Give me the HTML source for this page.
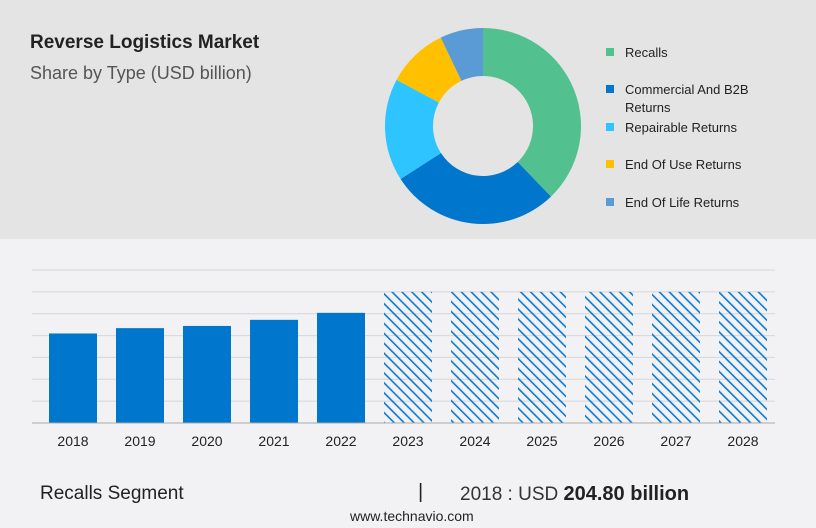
<!DOCTYPE html>
<html><head><meta charset="utf-8"><style>
body{margin:0;width:816px;height:528px;overflow:hidden;background:#f2f2f4;font-family:"Liberation Sans",sans-serif;position:relative}
#top{position:absolute;left:0;top:0;width:816px;height:239px;background:#e4e4e4}
.t{position:absolute;white-space:nowrap}
</style></head><body>
<div id="top"></div>
<div class="t" style="left:30px;top:32px;font-size:19px;font-weight:bold;color:#222">Reverse Logistics Market</div>
<div class="t" style="left:30px;top:63px;font-size:18px;color:#555">Share by Type (USD billion)</div>
<svg id="donut" width="816" height="240" style="position:absolute;left:0;top:0"></svg>
<svg id="bars" width="816" height="460" style="position:absolute;left:0;top:0"></svg>
<div class="t" style="left:40px;top:483px;font-size:19px;color:#222">Recalls Segment</div>
<div class="t" style="left:418px;top:481px;font-size:20px;color:#222">|</div>
<div class="t" style="left:460px;top:483px;font-size:19px;color:#333">2018 : USD <b style="color:#222;font-size:20px">204.80 billion</b></div>
<div class="t" style="left:350px;top:508px;font-size:14px;color:#222">www.technavio.com</div>
<script>
const NS="http://www.w3.org/2000/svg";
function mk(p,tag,a){const e=document.createElementNS(NS,tag);for(const k in a)e.setAttribute(k,a[k]);p.appendChild(e);return e;}
// donut data
const segNames=["Recalls","Commercial And B2B Returns","Repairable Returns","End Of Use Returns","End Of Life Returns"];
const segShares=[37.8,28.1,16.9,10.1,7.1];
const segColors=["#52c08f","#0077cc","#2ec4ff","#ffc000","#5b9bd5"];
const d=document.getElementById('donut');
const cx=483,cy=126,R=98,r=50;
let tot=segShares.reduce((a,b)=>a+b,0),acc=0;
segShares.forEach((v,i)=>{
 const a0=acc/tot*2*Math.PI;acc+=v;const a1=acc/tot*2*Math.PI;
 const p=(a,rr)=>[cx+rr*Math.sin(a),cy-rr*Math.cos(a)];
 const [x0,y0]=p(a0,R),[x1,y1]=p(a1,R),[x2,y2]=p(a1,r),[x3,y3]=p(a0,r);
 const lg=(a1-a0)>Math.PI?1:0;
 const el=mk(d,'path',{d:`M${x0},${y0}A${R},${R} 0 ${lg} 1 ${x1},${y1}L${x2},${y2}A${r},${r} 0 ${lg} 0 ${x3},${y3}Z`,fill:segColors[i]});
 
 
});
const legY=[53,90,128,165,203];
segNames.forEach((n,i)=>{
 const sq=mk(d,'rect',{x:606,y:legY[i]-5,width:8,height:8,fill:segColors[i]});
 
 
 const parts=i==1?["Commercial And B2B","Returns"]:[n];
 parts.forEach((s,j)=>{const t=mk(d,'text',{x:625,y:legY[i]+4+j*18,'font-size':13,fill:'#222'});t.textContent=s;
 
 });
});
// bar data
const years=["2018","2019","2020","2021","2022","2023","2024","2025","2026","2027","2028"];
const values=[204.8,217,222,236,252,300,300,300,300,300,300];
const forecast=[false,false,false,false,false,true,true,true,true,true,true];
const yTicks=[0,50,100,150,200,250,300,350];
const b=document.getElementById('bars');
const base=423,pxPer=153/350,x0=32,x1=775,step=67,bw=48,first=49;
const ys=v=>base-v*pxPer;
const defs=mk(b,'defs',{});
const pat=mk(defs,'pattern',{id:'hatch',width:7,height:7,patternUnits:'userSpaceOnUse',patternTransform:'rotate(-45)'});
mk(pat,'rect',{x:0,y:0,width:1.6,height:7,fill:'#0a7ad6'});
yTicks.forEach(t=>{if(t===0)return;const l=mk(b,'line',{x1:x0,x2:x1,y1:ys(t),y2:ys(t),stroke:'#d6d6d8','stroke-width':1});
 
 });
years.forEach((y,i)=>{
 const x=first+i*step,top=ys(values[i]);
 const r=mk(b,'rect',{x:x,y:top,width:bw,height:base-top,fill:forecast[i]?'url(#hatch)':'#0077cc'});
 
 
 const t=mk(b,'text',{x:x+bw/2,y:446,'text-anchor':'middle','font-size':14,fill:'#222'});t.textContent=y;
 
 
});
const ax=mk(b,'line',{x1:x0,x2:x1,y1:base,y2:base,stroke:'#aaa','stroke-width':1});


</script>
</body></html>
